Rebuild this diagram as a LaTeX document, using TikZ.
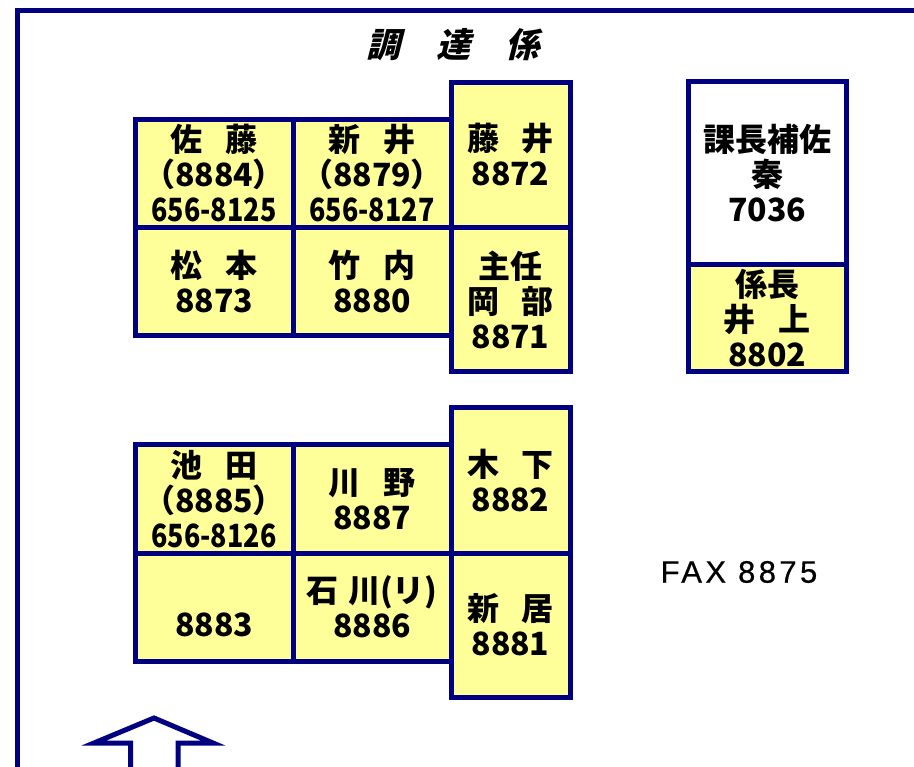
\documentclass[tikz,border=0pt]{standalone}
\usepackage{fontspec}
\usepackage{graphicx}
\setmainfont{Noto Sans CJK JP}
\newfontfamily\titlefont[FakeSlant=0.25]{Noto Sans CJK JP}
\newfontfamily\faxfont[LetterSpace=11,FakeBold=0.6]{Liberation Sans}
\usepackage{tikz}
\usetikzlibrary{positioning}
\definecolor{DeskNavy}{HTML}{000080}
\definecolor{DeskYellow}{HTML}{FFFF99}
\newcommand\jgap{\hspace{0.7em}}
\newcommand\phone[1]{\scalebox{0.84}[1]{#1}}

\begin{document}
\begin{tikzpicture}[x=1pt,y=-1pt,
                    cell/.style={draw=DeskNavy, line width=5pt, fill=DeskYellow, inner sep=0pt,
                                 align=center, minimum width=158pt, minimum height=108pt,
                                 font=\fontsize{32}{35}\selectfont\bfseries},
                    narrow/.style={cell, minimum width=119pt},
                    wall/.style={draw=DeskNavy, line width=5pt}]
\useasboundingbox (0,0) rectangle (914,767);
\clip (0,0) rectangle (914,767);
% room outline and entrance
\draw[wall] (17,790) -- (17,10.5) -- (930,10.5);
\draw[wall, fill=white] (94,743) -- (154,718) -- (213,743) -- (178,743) -- (178,790)
                        -- (130.5,790) -- (130.5,743) -- cycle;
\node[font=\titlefont\fontsize{34}{34}\selectfont\bfseries] (title) at (453,45)
     {調\hspace{1.05em}達\hspace{1.05em}係};
% upper island
\node[cell] (sato) at (214,173.5) {佐\jgap 藤\\（8884）\\\phone{656-8125}};
\node[cell, right=-5pt of sato] (arai) {新\jgap 井\\（8879）\\\phone{656-8127}};
\node[narrow, anchor=south west, minimum height=145pt] (fujii) at ([xshift=-5pt]arai.south east)
     {藤\jgap 井\\8872};
\node[cell, below=-5pt of sato] (matsumoto) {松\jgap 本\\8873};
\node[cell, right=-5pt of matsumoto] (takeuchi) {竹\jgap 内\\8880};
\node[narrow, below=-5pt of fujii, minimum height=144pt] (okabe) {主任\\岡\jgap 部\\8871};
% lower island
\node[cell] (ikeda) at (214,499) {池\jgap 田\\（8885）\\\phone{656-8126}};
\node[cell, right=-5pt of ikeda] (kawano) {川\jgap 野\\8887};
\node[narrow, anchor=south west, minimum height=145pt] (kinoshita) at ([xshift=-5pt]kawano.south east)
     {木\jgap 下\\8882};
\node[cell, below=-5pt of ikeda] (vacant) {\phantom{8}\\8883};
\node[cell, right=-5pt of vacant] (ishikawa) {石\hspace{0.3em}川(リ)\\8886};
\node[narrow, below=-5pt of kinoshita, minimum height=144pt] (nii) {新\jgap 居\\8881};
% section chief
\node[cell, fill=white, minimum height=183pt] (hata) at (767,173.5) {課長補佐\\秦\\7036};
\node[cell, below=-5pt of hata, minimum height=107pt] (inoue) {係長\\井\jgap 上\\8802};
\node[font=\faxfont\fontsize{31}{31}\selectfont] (fax) at (739,572) {FAX 8875};
\end{tikzpicture}
\end{document}
